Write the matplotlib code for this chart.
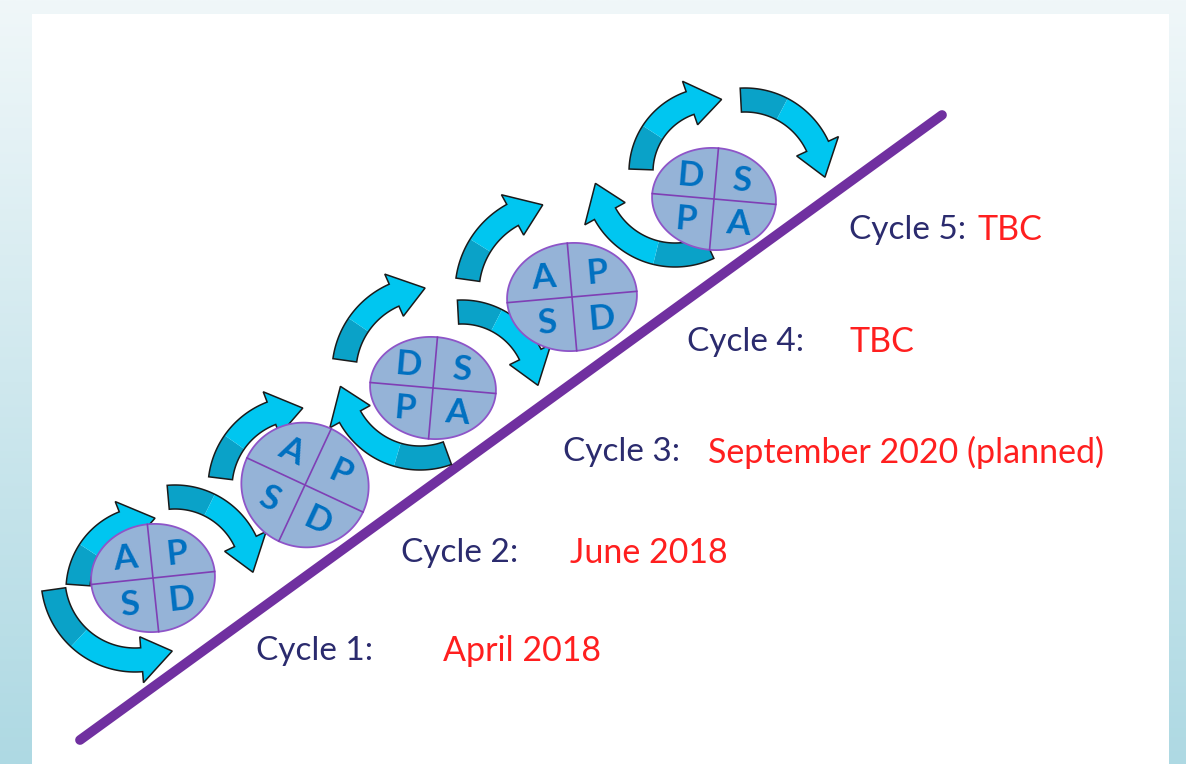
import matplotlib

matplotlib.use("Agg")

import matplotlib.pyplot as plt
import numpy as np
from matplotlib.patches import Polygon, Rectangle

# PDSA cycles: letters in each quadrant (top-left, top-right, bottom-left, bottom-right)
cycle_letters = [
    ["A", "P", "S", "D"],
    ["A", "P", "S", "D"],
    ["D", "S", "P", "A"],
    ["A", "P", "S", "D"],
    ["D", "S", "P", "A"],
]
cycle_names = ["Cycle 1:", "Cycle 2:", "Cycle 3:", "Cycle 4:", "Cycle 5:"]
cycle_dates = ["April 2018", "June 2018", "September 2020 (planned)", "TBC", "TBC"]

# layout (pixel coordinates, y down)
circle_xy = [(153, 578), (305, 485), (433, 388), (572, 297), (714, 199)]
circle_r = [(62, 54), (64, 62), (63, 51), (65, 54), (62, 51)]
circle_rot = [6, -25, -5, 5, -5]
name_xy = [(256, 651), (401, 553), (563, 452), (687, 342), (849, 230)]
date_x = [443, 570, 708, 849, 977]
# curved arrows: arc centre x, y, radius, start angle, end angle (head)
arrows = [
    (150, 590, 72, 176, 86),
    (135, 578, 82, 188, 297),
    (175, 575, 78, 95, 2),
    (300, 488, 80, 173, 88),
    (428, 372, 84, 172, 92),
    (462, 388, 76, 93, 2),
    (420, 378, 80, 290, 186),
    (555, 292, 88, 172, 98),
    (714, 172, 73, 178, 84),
    (745, 180, 80, 93, 2),
    (675, 175, 80, 295, 186),
]

W, H = 1186, 764
fig = plt.figure(figsize=(W / 100, H / 100), dpi=100)
ax = fig.add_axes([0, 0, 1, 1])
ax.set_xlim(0, W)
ax.set_ylim(H, 0)
ax.axis("off")

# background gradient and white panel
top = np.array([0xF0, 0xF7, 0xF9]) / 255
bot = np.array([0xAE, 0xD9, 0xE3]) / 255
g = np.linspace(0, 1, 256)[:, None]
grad = top[None, None, :] * (1 - g[:, :, None]) + bot[None, None, :] * g[:, :, None]
grad = np.repeat(grad, 2, axis=1)
ax.imshow(grad, extent=[0, W, H, 0], aspect="auto", zorder=0)
ax.add_patch(Rectangle((32, 14), 1169 - 32, H - 14, facecolor="white", edgecolor="none", zorder=1))

# purple baseline
ax.plot([80, 942], [740, 115], color="#7030A0", linewidth=7, solid_capstyle="round", zorder=2)


def arc_pts(cx, cy, rad, t):
    return np.column_stack([cx + rad * np.cos(t), cy - rad * np.sin(t)])


def curved_arrow(cx, cy, r, a0, a1, w=12, hw=23, hl=32):
    a0, a1 = np.radians(a0), np.radians(a1)
    sign = 1 if a1 > a0 else -1
    ah = a1 - sign * hl / r
    am = a0 + (ah - a0) * 0.45
    t1 = np.linspace(a0, am, 30)
    t2 = np.linspace(am, ah, 30)
    head = np.vstack([arc_pts(cx, cy, r + hw, np.array([ah])),
                      arc_pts(cx, cy, r, np.array([a1])),
                      arc_pts(cx, cy, r - hw, np.array([ah]))])
    dark = np.vstack([arc_pts(cx, cy, r + w, t1), arc_pts(cx, cy, r - w, t1[::-1])])
    light = np.vstack([arc_pts(cx, cy, r + w, t2), head, arc_pts(cx, cy, r - w, t2[::-1])])
    ax.add_patch(Polygon(dark, closed=True, facecolor="#0AA2C8", edgecolor="none", zorder=3))
    ax.add_patch(Polygon(light, closed=True, facecolor="#00C6F0", edgecolor="none", zorder=3))
    t = np.linspace(a0, ah, 60)
    outline = np.vstack([arc_pts(cx, cy, r + w, t), head, arc_pts(cx, cy, r - w, t[::-1])])
    ax.add_patch(Polygon(outline, closed=True, facecolor="none", edgecolor="#1A1A1A",
                         linewidth=1.1, zorder=4))


for a in arrows:
    curved_arrow(*a)


def to_screen(cx, cy, phi, x, y):
    # local (x right, y up) rotated by phi (visual ccw) to screen coords
    c, s = np.cos(phi), np.sin(phi)
    return cx + x * c - y * s, cy - (x * s + y * c)


for (cx, cy), (rx, ry), rot, letters in zip(circle_xy, circle_r, circle_rot, cycle_letters):
    phi = np.radians(rot)
    t = np.linspace(0, 2 * np.pi, 200)
    ex, ey = to_screen(cx, cy, phi, rx * np.cos(t), ry * np.sin(t))
    ax.add_patch(Polygon(np.column_stack([ex, ey]), closed=True, facecolor="#95B3D7",
                         edgecolor="#8E55C8", linewidth=1.3, zorder=5))
    for (x0, y0), (x1, y1) in [((-rx, 0), (rx, 0)), ((0, -ry), (0, ry))]:
        p0 = to_screen(cx, cy, phi, x0, y0)
        p1 = to_screen(cx, cy, phi, x1, y1)
        ax.plot([p0[0], p1[0]], [p0[1], p1[1]], color="#7F3FB5", linewidth=1.2, zorder=6)
    offs = [(-0.42, 0.4), (0.42, 0.4), (-0.42, -0.45), (0.42, -0.45)]
    for letter, (ox, oy) in zip(letters, offs):
        lx, ly = to_screen(cx, cy, phi, ox * rx, oy * ry)
        ax.text(lx, ly, letter, color="#0070C0", fontsize=25, fontweight="bold",
                family="Lato", ha="center", va="center", rotation=rot, zorder=7)

for (nx, ny), name, dx, date in zip(name_xy, cycle_names, date_x, cycle_dates):
    ax.text(nx, ny, name, color="#2B2B6E", fontsize=24, family="Lato",
            ha="left", va="center", zorder=7)
    ax.text(dx, ny, date, color="#FF1F1F", fontsize=24.5, family="Lato",
            ha="left", va="center", zorder=7)

fig.savefig("out.png", dpi=100)
plt.close(fig)
